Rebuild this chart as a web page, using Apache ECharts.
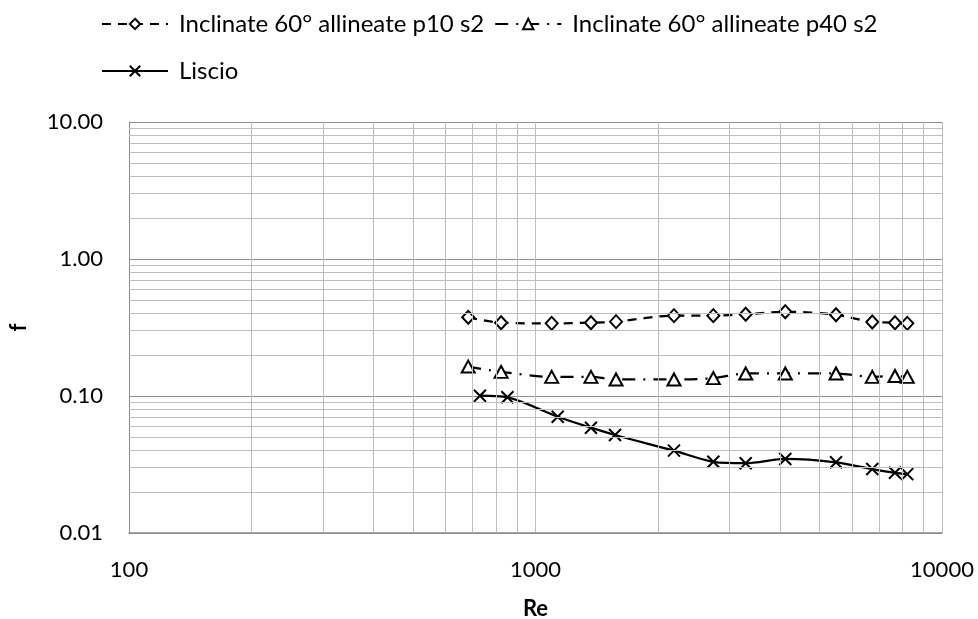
<!DOCTYPE html>
<html>
<head>
<meta charset="utf-8">
<script src="https://cdn.jsdelivr.net/npm/echarts@6/dist/echarts.min.js"></script>
<style>
html,body{margin:0;padding:0;background:#fff;}
#chart{width:978px;height:619px;}
</style>
</head>
<body>
<div id="chart"></div>
<script>
// ---- data ----
const seriesNames = ['Inclinate 60° allineate p10 s2', 'Inclinate 60° allineate p40 s2', 'Liscio'];
const reP10 = [683, 823, 1096, 1369, 1578, 2191, 2738, 3289, 4116, 5486, 6737, 7662, 8214];
const fP10 = [0.375, 0.343, 0.339, 0.343, 0.349, 0.386, 0.386, 0.395, 0.412, 0.392, 0.347, 0.343, 0.339];
const reP40 = [683, 823, 1096, 1369, 1578, 2191, 2738, 3289, 4116, 5486, 6737, 7662, 8214];
const fP40 = [0.164, 0.150, 0.138, 0.138, 0.132, 0.132, 0.135, 0.146, 0.146, 0.146, 0.138, 0.140, 0.138];
const reLiscio = [730, 853, 1134, 1369, 1569, 2191, 2738, 3289, 4116, 5486, 6737, 7662, 8214];
const fLiscio = [0.1005, 0.0978, 0.0706, 0.0587, 0.0519, 0.0399, 0.0331, 0.0323, 0.0347, 0.0328, 0.0293, 0.0275, 0.0269];
const xMinorGrid = [200, 300, 400, 500, 600, 700, 800, 900, 2000, 3000, 4000, 5000, 6000, 7000, 8000, 9000];
const yMinorGrid = [0.02, 0.03, 0.04, 0.05, 0.06, 0.07, 0.08, 0.09, 0.2, 0.3, 0.4, 0.5, 0.6, 0.7, 0.8, 0.9, 2, 3, 4, 5, 6, 7, 8, 9];
const xRange = [100, 10000];
const yRange = [0.01, 10];
const xTitle = 'Re';
const yTitle = 'f';

const zip = (a, b) => a.map((v, i) => [v, b[i]]);
const FONT = 'Lato';
const minorColor = '#BEBEBE';

const gridMarks = [];
xMinorGrid.forEach(v => gridMarks.push({ xAxis: v }));
yMinorGrid.forEach(v => gridMarks.push({ yAxis: v }));

const legendText = { fontFamily: FONT, fontSize: 24, color: '#000', padding: [0, 0, 0, 6] };

const chart = echarts.init(document.getElementById('chart'));
chart.setOption({
  animation: false,
  textStyle: { fontFamily: FONT },
  grid: { left: 129, right: 36, top: 122, bottom: 86, containLabel: false, outerBoundsMode: 'none' },
  legend: [
    { data: [seriesNames[0], seriesNames[1]], left: 101, top: 12, padding: 0, itemWidth: 66, itemHeight: 13, itemGap: 10,
      textStyle: legendText },
    { data: [seriesNames[2]], left: 101, top: 59, padding: 0, itemWidth: 66, itemHeight: 13,
      textStyle: legendText }
  ],
  xAxis: {
    type: 'log', logBase: 10, min: xRange[0], max: xRange[1],
    name: xTitle, nameLocation: 'middle', nameGap: 65,
    nameTextStyle: { fontFamily: FONT, fontSize: 22, fontWeight: 'bold', color: '#000' },
    axisLine: { lineStyle: { color: '#8C8C8C', width: 1.5 } },
    axisTick: { show: false },
    axisLabel: { fontFamily: FONT, fontSize: 22, color: '#000', margin: 26, formatter: v => String(Math.round(v)) },
    splitLine: { show: true, lineStyle: { color: minorColor, width: 1 } },
    minorTick: { show: false }, minorSplitLine: { show: false }
  },
  yAxis: {
    type: 'log', logBase: 10, min: yRange[0], max: yRange[1],
    name: yTitle, nameLocation: 'middle', nameGap: 99, nameRotate: 90,
    nameTextStyle: { fontFamily: FONT, fontSize: 22, fontWeight: 'bold', color: '#000' },
    axisLine: { show: true, lineStyle: { color: '#8C8C8C', width: 1 } },
    axisTick: { show: false },
    axisLabel: { fontFamily: FONT, fontSize: 22, color: '#000', margin: 26, formatter: v => Number(v).toFixed(2) },
    splitLine: { show: true, lineStyle: { color: '#8C8C8C', width: 1 } },
    minorTick: { show: false }, minorSplitLine: { show: false }
  },
  series: [
    {
      name: 'grid', type: 'line', data: [], z: 1, silent: true,
      markLine: { silent: true, symbol: ['none', 'none'], label: { show: false },
        lineStyle: { color: minorColor, width: 1, type: 'solid' }, emphasis: { disabled: true },
        data: gridMarks, animation: false }
    },
    {
      name: seriesNames[0], type: 'line', z: 3, data: zip(reP10, fP10), smooth: 0.3,
      symbol: 'diamond', symbolSize: [12, 13],
      itemStyle: { color: '#fff', borderColor: '#000', borderWidth: 2 },
      lineStyle: { color: '#000', width: 2.25, type: [9, 7] }
    },
    {
      name: seriesNames[1], type: 'line', z: 3, data: zip(reP40, fP40), smooth: 0.3,
      symbol: 'triangle', symbolSize: [13, 12],
      itemStyle: { color: '#fff', borderColor: '#000', borderWidth: 2 },
      lineStyle: { color: '#000', width: 2.25, type: [13, 8, 2, 8] }
    },
    {
      name: seriesNames[2], type: 'line', z: 3, data: zip(reLiscio, fLiscio), smooth: 0.3,
      symbol: 'path://M0,0L10,10M10,0L0,10', symbolSize: 12,
      itemStyle: { color: 'none', borderColor: '#000', borderWidth: 2 },
      lineStyle: { color: '#000', width: 2.25, type: 'solid' }
    }
  ]
});
</script>
</body>
</html>
